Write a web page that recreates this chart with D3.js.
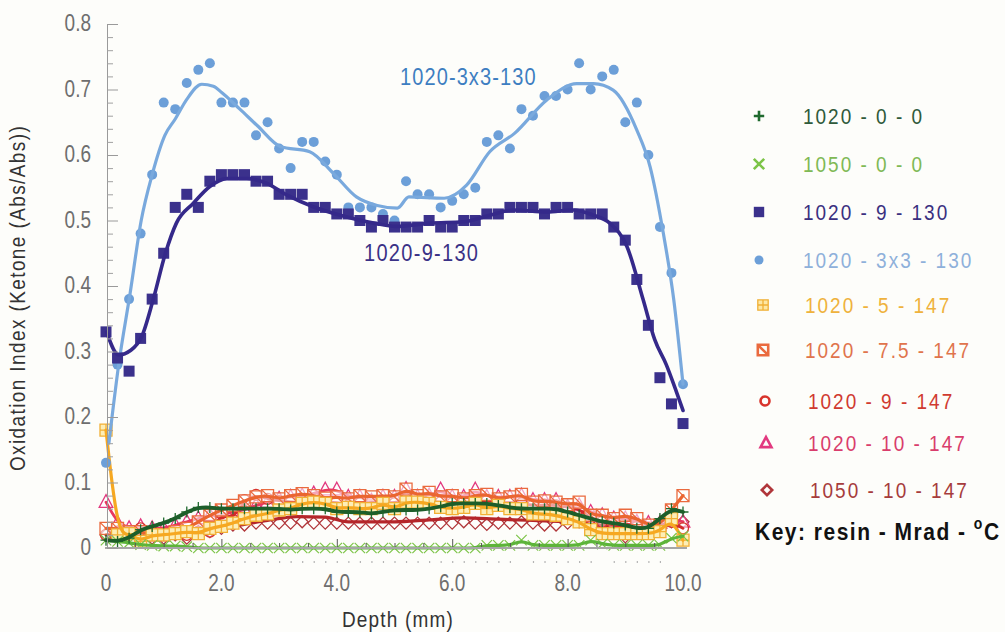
<!DOCTYPE html>
<html><head><meta charset="utf-8">
<script src="https://cdn.jsdelivr.net/npm/d3@7"></script>
<style>
html,body{margin:0;padding:0;background:#fdfdfa;}
svg{display:block;font-family:"Liberation Sans",Arial,sans-serif;}
</style>
</head><body>
<svg id="c" width="1005" height="632"></svg>
<script>
// ---------------- DATA ----------------
const depth = [0,0.2,0.4,0.6,0.8,1,1.2,1.4,1.6,1.8,2,2.2,2.4,2.6,2.8,3,3.2,3.4,3.6,3.8,4,4.2,4.4,4.6,4.8,5,5.2,5.4,5.6,5.8,6,6.2,6.4,6.6,6.8,7,7.2,7.4,7.6,7.8,8,8.2,8.4,8.6,8.8,9,9.2,9.4,9.6,9.8,10];

const s1020_0_0 = [0.012,0.01,0.015,0.028,0.033,0.038,0.045,0.055,0.062,0.062,0.06,0.06,0.06,0.06,0.06,0.06,0.058,0.06,0.06,0.06,0.055,0.055,0.055,0.052,0.055,0.058,0.058,0.058,0.06,0.063,0.068,0.068,0.068,0.068,0.065,0.062,0.06,0.06,0.06,0.06,0.055,0.05,0.045,0.04,0.038,0.035,0.03,0.03,0.045,0.06,0.055];
const s1050_0_0 = [0.012,0.01,0.008,0.005,0.004,0.003,0.003,0.002,0,0,0,0,0,0,0,0,0,0,0,0,0,0,0,0,0,0,0,0,0,0,0,0,0,0.004,0.004,0.004,0.012,0.004,0.004,0.004,0.004,0.004,0.012,0.006,0.004,0.004,0.004,0.004,0.004,0.015,0.018];
const s1020_9_130 = [0.33,0.29,0.27,0.32,0.38,0.45,0.52,0.54,0.52,0.56,0.57,0.57,0.57,0.56,0.56,0.54,0.54,0.54,0.52,0.52,0.51,0.51,0.50,0.49,0.50,0.49,0.49,0.49,0.50,0.49,0.49,0.50,0.50,0.51,0.51,0.52,0.52,0.52,0.51,0.52,0.52,0.51,0.51,0.51,0.49,0.47,0.41,0.34,0.26,0.22,0.19];
const s1020_3x3_130 = [0.13,0.28,0.38,0.48,0.57,0.68,0.67,0.71,0.73,0.74,0.68,0.68,0.68,0.63,0.65,0.61,0.58,0.62,0.62,0.59,0.57,0.52,0.52,0.52,0.51,0.50,0.56,0.54,0.54,0.52,0.53,0.54,0.55,0.62,0.63,0.61,0.67,0.66,0.69,0.69,0.70,0.74,0.70,0.72,0.73,0.65,0.68,0.60,0.49,0.42,0.25];
const s1020_5_147 = [0.18,0.02,0.022,0.01,0.02,0.02,0.022,0.025,0.022,0.03,0.033,0.038,0.045,0.05,0.052,0.058,0.06,0.068,0.07,0.068,0.06,0.062,0.06,0.06,0.068,0.06,0.07,0.07,0.068,0.062,0.06,0.062,0.068,0.06,0.065,0.06,0.06,0.052,0.052,0.05,0.045,0.04,0.028,0.022,0.022,0.022,0.022,0.022,0.025,0.045,0.012];
const s1020_7_5_147 = [0.03,0.03,0.025,0.025,0.02,0.02,0.025,0.03,0.04,0.05,0.058,0.065,0.072,0.078,0.08,0.075,0.08,0.083,0.08,0.076,0.078,0.075,0.08,0.078,0.08,0.078,0.09,0.08,0.085,0.078,0.08,0.075,0.08,0.082,0.075,0.078,0.082,0.07,0.072,0.07,0.066,0.07,0.05,0.05,0.045,0.05,0.045,0.035,0.035,0.058,0.08];
const s1020_9_147 = [0.02,0.025,0.025,0.03,0.025,0.02,0.022,0.02,0.025,0.025,0.053,0.043,0.073,0.081,0.075,0.072,0.07,0.07,0.068,0.07,0.07,0.065,0.068,0.07,0.07,0.068,0.075,0.07,0.072,0.07,0.068,0.07,0.07,0.072,0.068,0.07,0.068,0.065,0.066,0.065,0.062,0.06,0.045,0.04,0.035,0.03,0.032,0.03,0.035,0.04,0.03];
const s1020_10_147 = [0.07,0.038,0.03,0.033,0.03,0.03,0.035,0.04,0.045,0.05,0.05,0.055,0.058,0.065,0.07,0.075,0.078,0.08,0.083,0.089,0.089,0.078,0.078,0.072,0.078,0.078,0.09,0.078,0.08,0.089,0.078,0.078,0.089,0.078,0.078,0.078,0.08,0.073,0.073,0.073,0.063,0.065,0.055,0.05,0.045,0.045,0.04,0.038,0.038,0.045,0.04];
const s1050_10_147 = [0.02,0.025,0.02,0.02,0.015,0.015,0.02,0.015,0.025,0.025,0.03,0.035,0.035,0.038,0.038,0.038,0.038,0.04,0.038,0.038,0.038,0.038,0.038,0.038,0.038,0.038,0.038,0.038,0.038,0.038,0.038,0.04,0.038,0.036,0.038,0.038,0.04,0.038,0.035,0.035,0.038,0.04,0.035,0.035,0.03,0.017,0.028,0.03,0.035,0.04,0.04];

// fitted trend lines
const fitDepth_9_130 = [0.01,0.22,0.43,0.62,0.82,1.03,1.22,1.51,1.8,2.09,2.44,2.78,3.13,3.59,4.06,4.64,5.03,5.62,6.19,6.65,7.06,7.64,8.09,8.45,8.73,9.03,9.31,9.51,9.71,9.88,10.0];
const fit_9_130 = [0.33,0.295,0.302,0.323,0.38,0.45,0.496,0.526,0.552,0.564,0.564,0.557,0.539,0.521,0.508,0.496,0.491,0.496,0.498,0.508,0.516,0.513,0.516,0.508,0.496,0.46,0.379,0.318,0.28,0.24,0.21];
const fitDepth_3x3_130 = [0.05,0.22,0.42,0.61,0.8,1.02,1.2,1.4,1.66,1.86,2.01,2.32,2.62,3.02,3.53,3.94,4.34,4.7,5.05,5.25,5.86,6.25,6.65,7.08,7.64,8.16,8.45,8.79,9.2,9.43,9.66,9.84,10.0];
const fit_3x3_130 = [0.16,0.28,0.39,0.5,0.57,0.63,0.655,0.685,0.708,0.705,0.695,0.67,0.645,0.613,0.605,0.572,0.536,0.523,0.519,0.536,0.534,0.554,0.605,0.633,0.684,0.709,0.709,0.699,0.638,0.582,0.48,0.379,0.25];
const fitDepth_1050_10_147 = [0,0.6,1.2,1.8,2.2,2.8,3.3,3.8,4.2,5.0,5.6,6.2,6.8,7.4,8.0,8.6,9.0,9.4,10];
const fit_1050_10_147 = [0.02,0.02,0.02,0.025,0.033,0.042,0.048,0.047,0.04,0.04,0.043,0.046,0.044,0.042,0.04,0.035,0.03,0.03,0.04];

const legendLabels = ["1020 - 0 - 0","1050 - 0 - 0","1020 - 9 - 130","1020 - 3x3 - 130","1020 - 5 - 147","1020 - 7.5 - 147","1020 - 9 - 147","1020 - 10 - 147","1050 - 10 - 147"];
const yTicks = [0,0.1,0.2,0.3,0.4,0.5,0.6,0.7,0.8];
const yTickLabels = ["0","0.1","0.2","0.3","0.4","0.5","0.6","0.7","0.8"];
const yMinorTicks = [0.02,0.04,0.06,0.08,0.12,0.14,0.16,0.18,0.22,0.24,0.26,0.28,0.32,0.34,0.36,0.38,0.42,0.44,0.46,0.48,0.52,0.54,0.56,0.58,0.62,0.64,0.66,0.68,0.72,0.74,0.76,0.78];
const xTicks = [0,2,4,6,8,10];
const xTickLabels = ["0","2.0","4.0","6.0","8.0","10.0"];
const xInnerTicks = [0.5,1,1.5,2,2.5,3,3.5,4,4.5,5,5.5,6,6.5,7,7.5,8,8.5,9,9.5];
const xDotTicks = [0.6,0.8,1,1.2,1.4,1.6,1.8,2,2.2,2.4,2.6,2.8,3,3.2,3.4,3.6,3.8,4,4.2,4.4,4.6,4.8,5,5.2,5.4,5.6,5.8,6,6.2,6.4,6.6,6.8,7,7.4,7.6,7.8,8,8.2,8.4,8.8,9,9.2,9.4,9.6];

// ---------------- CHART ----------------
const svg = d3.select("#c");
svg.append("rect").attr("width",1005).attr("height",632).attr("fill","#fdfdfa");

const x = d3.scaleLinear().domain([0,10]).range([106,683]);
const y = d3.scaleLinear().domain([0,0.8]).range([548,24]);

function shapePath(type, s){
  switch(type){
    case "plus": return `M${-s},0H${s}M0,${-s}V${s}`;
    case "cross": return `M${-s},${-s}L${s},${s}M${-s},${s}L${s},${-s}`;
    case "square": return `M${-s},${-s}H${s}V${s}H${-s}Z`;
    case "grid": return `M${-s},${-s}H${s}V${s}H${-s}ZM0,${-s}V${s}M${-s},0H${s}`;
    case "slash": return `M${-s},${-s}H${s}V${s}H${-s}ZM${-s},${-s}L${s},${s}`;
    case "triangle": return `M0,${-s*1.15}L${s*1.05},${s*0.8}L${-s*1.05},${s*0.8}Z`;
    case "diamond": return `M0,${-s}L${s},0L0,${s}L${-s},0Z`;
    case "circle": return d3.symbol(d3.symbolCircle, Math.PI*s*s)();
  }
}

const series = [
  {label:legendLabels[8], vals:s1050_10_147, shape:"diamond", size:6, stroke:"#b0363a", fill:"rgba(255,255,255,0.35)", sw:1.3, line:"#b5262a", lw:3.2, fitD:fitDepth_1050_10_147, fitV:fit_1050_10_147, text:"#a63c3c"},
  {label:legendLabels[7], vals:s1020_10_147, shape:"triangle", size:6.5, stroke:"#e2397f", fill:"rgba(255,255,255,0.55)", sw:1.3, line:"#e8385e", lw:2.8, text:"#d93d6c"},
  {label:legendLabels[6], vals:s1020_9_147, shape:"circle", size:5.5, stroke:"#d8342c", fill:"rgba(255,255,255,0.4)", sw:1.3, line:"#d32a2a", lw:2.8, text:"#d03a30"},
  {label:legendLabels[5], vals:s1020_7_5_147, shape:"slash", size:6, stroke:"#ea6a3e", fill:"rgba(255,255,255,0.55)", sw:1.3, line:"#ea6530", lw:3.2, text:"#e0744c"},
  {label:legendLabels[4], vals:s1020_5_147, shape:"grid", size:6, stroke:"#f2b035", fill:"#fdeeb6", sw:1.3, line:"#f6a821", lw:3.2, text:"#efb23c"},
  {label:legendLabels[1], vals:s1050_0_0, shape:"cross", size:5.2, stroke:"#7cc447", fill:"none", sw:1.2, line:"#5db43a", lw:3.2, text:"#7fb955"},
  {label:legendLabels[0], vals:s1020_0_0, shape:"plus", size:5.5, stroke:"#1f6a2e", fill:"none", sw:1.3, line:"#1d5e2a", lw:3.8, text:"#2f5a3a"},
  {label:legendLabels[3], vals:s1020_3x3_130, shape:"circle", size:5, stroke:"none", fill:"#6c9fd8", sw:0, line:"#79a9dd", lw:3.2, fitD:fitDepth_3x3_130, fitV:fit_3x3_130, text:"#8eb0da"},
  {label:legendLabels[2], vals:s1020_9_130, shape:"square", size:5.5, stroke:"none", fill:"#3b318c", sw:0, line:"#35298a", lw:3.6, fitD:fitDepth_9_130, fitV:fit_9_130, text:"#3a3080"}
];

const plot = svg.append("g");
series.forEach(s=>{
  const pts = depth.map((d,i)=>[d, s.vals[i]]);
  const g = plot.append("g");
  g.selectAll("path.m").data(pts).join("path")
    .attr("class","m")
    .attr("transform", p=>`translate(${x(p[0])},${y(p[1])})`)
    .attr("d", shapePath(s.shape, s.size))
    .attr("fill", s.fill).attr("stroke", s.stroke).attr("stroke-width", s.sw);
  let lineData, curve;
  if (s.fitD){ lineData = s.fitD.map((d,i)=>[d, s.fitV[i]]); curve = d3.curveMonotoneX; }
  else { lineData = pts; curve = d3.curveBasis; }
  g.append("path")
    .attr("d", d3.line().x(p=>x(p[0])).y(p=>y(p[1])).curve(curve)(lineData))
    .attr("fill","none").attr("stroke", s.line).attr("stroke-width", s.lw)
    .attr("stroke-linejoin","round").attr("stroke-linecap","round");
});

// ---------- axes ----------
const xAxisG = svg.append("g").attr("transform",`translate(0,${y(0)})`);
xAxisG.call(d3.axisTop(x).tickValues(xInnerTicks).tickSize(5).tickFormat(""))
  .call(g=>g.select(".domain").remove())
  .call(g=>g.selectAll(".tick line").attr("stroke","#555").attr("y2", d=> d%2===0 ? -9 : -5));
svg.append("line").attr("x1",x(0)-1).attr("x2",x(10)+4).attr("y1",y(0)).attr("y2",y(0))
  .attr("stroke","#a6a6a6").attr("stroke-width",2);
const dotG = svg.append("g").attr("transform",`translate(0,${y(0)+13})`);
dotG.call(d3.axisBottom(x).tickValues(xDotTicks).tickSize(2).tickFormat(""))
  .call(g=>g.select(".domain").remove())
  .call(g=>g.selectAll(".tick line").attr("stroke","#b4b4b4").attr("stroke-width",1.2));

const yAxisG = svg.append("g").attr("transform","translate(107,0)");
yAxisG.call(d3.axisRight(y).tickValues(yMinorTicks).tickSize(6).tickFormat("").tickSizeOuter(0))
  .call(g=>g.select(".domain").attr("stroke","#9a9a9a"))
  .call(g=>g.selectAll(".tick line").attr("stroke","#a0a0a0"));
yAxisG.append("g").call(d3.axisRight(y).tickValues(yTicks).tickSize(11).tickFormat("").tickSizeOuter(0))
  .call(g=>g.select(".domain").remove())
  .call(g=>g.selectAll(".tick line").attr("stroke","#9a9a9a"));

function stext(parent, tx, ty, str, opts){
  return parent.append("text")
    .attr("transform", `translate(${tx},${ty})${opts.rot?` rotate(${opts.rot})`:""} scale(1,${opts.sy||1})`)
    .attr("font-size", opts.size).attr("fill", opts.color)
    .attr("text-anchor", opts.anchor||"start")
    .attr("letter-spacing", opts.ls||0)
    .attr("font-weight", opts.weight||"normal")
    .text(str);
}

yTicks.forEach((v,i)=> stext(svg, 91, y(v)+7, yTickLabels[i], {size:19, sy:1.25, color:"#6e6e6e", anchor:"end"}));
xTicks.forEach((v,i)=> stext(svg, x(v), 591, xTickLabels[i], {size:19, sy:1.25, color:"#6e6e6e", anchor:"middle"}));

stext(svg, 398, 627, "Depth (mm)", {size:19, sy:1.2, color:"#333", anchor:"middle", ls:1.2});
stext(svg, 25, 298, "Oxidation Index (Ketone (Abs/Abs))", {size:19, sy:1.2, rot:-90, color:"#333", anchor:"middle", ls:1.4});

stext(svg, 400, 85, "1020-3x3-130", {size:20, sy:1.15, color:"#3d7ec1", ls:1.1});
stext(svg, 364, 261, "1020-9-130", {size:20, sy:1.15, color:"#3a3186", ls:1.3});

// ---------- legend ----------
const legendOrder = [6,5,8,7,4,3,2,1,0];
const legendY = [117,165,213,261,306,351,402,444,491];
const legendMX = [759,759,759,759,763,763,765,766,767];
const legendTX = [803,803,803,803,805,805,808,808,810];
const lg = svg.append("g");
legendOrder.forEach((si,k)=>{
  const s = series[si];
  const filled = (s.shape==="square"||s.shape==="circle"&&s.stroke==="none");
  lg.append("path")
    .attr("transform",`translate(${legendMX[k]},${legendY[k]-1})`)
    .attr("d", shapePath(s.shape, s.shape==="circle"? 4.5 : 5.2))
    .attr("fill", filled ? s.fill : (s.shape==="grid" ? "#fde7a4" : "none"))
    .attr("stroke", filled ? "none" : (s.shape==="grid"?"#f0b035":s.stroke))
    .attr("stroke-width", (s.shape==="grid"?1.3:2.6));
  stext(lg, legendTX[k], legendY[k]+7, s.label, {size:19, sy:1.2, color:s.text, ls:2});
});
const key = lg.append("text")
  .attr("transform","translate(755,540) scale(1,1.15)")
  .attr("font-size",21).attr("font-weight","bold").attr("fill","#111").attr("letter-spacing",1.5);
key.append("tspan").text("Key:  resin - Mrad - ");
key.append("tspan").attr("font-size",14).attr("dy",-10).text("o");
key.append("tspan").attr("dy",10).text("C");
</script>
</body></html>
